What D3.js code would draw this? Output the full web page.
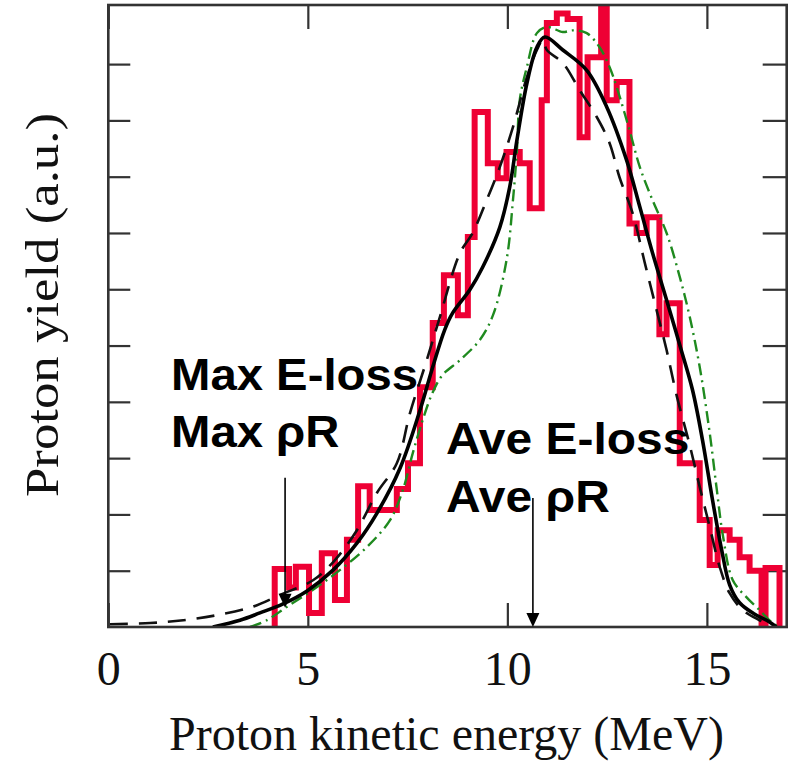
<!DOCTYPE html>
<html>
<head>
<meta charset="utf-8">
<script src="https://cdn.jsdelivr.net/npm/d3@7"></script>
<style>
  html, body { margin: 0; padding: 0; background: #fff; }
  svg { display: block; }
</style>
</head>
<body>
<svg id="chart" width="793" height="762"></svg>
<script>
// Measured proton spectrum: histogram bin edges (MeV) and yields (a.u.)
const histEdges = [4.17, 4.53, 4.70, 5.03, 5.35, 5.68, 5.98, 6.26, 6.55, 7.23, 7.51, 7.81,
  8.13, 8.41, 8.76, 9.01, 9.18, 9.51, 9.76, 9.98, 10.31, 10.56, 10.86, 10.99, 11.24, 11.51,
  11.81, 12.01, 12.35, 12.49, 12.74, 13.06, 13.24, 13.49, 13.81, 13.99, 14.32, 14.82, 15.07,
  15.27, 15.57, 15.82, 16.07, 16.37, 16.47, 16.82];
const histYield = [1.03, 0.70, 1.07, 0.25, 1.31, 0.48, 1.55, 2.50, 2.08, 2.45, 2.91,
  4.26, 5.40, 6.25, 5.54, 6.93, 9.15, 8.24, 7.97, 8.44, 8.24, 7.44, 9.36, 10.73, 10.90,
  10.80, 8.70, 10.12, 11.30, 9.36, 9.68, 7.17, 7.00, 7.28, 5.20, 5.75, 2.91, 1.90, 1.10,
  1.72, 1.55, 1.24, 1.00, 0.00, 1.05];

// Modelled spectra: energy (MeV) and yield (a.u.)
const solidE = [2.62, 3.30, 3.80, 4.38, 4.98, 5.63, 6.23, 6.73, 7.31, 7.81, 8.13, 8.43, 8.63,
  9.06, 9.38, 9.81, 10.06, 10.24, 10.49, 10.74, 10.94, 11.39, 11.99, 12.49, 12.99, 13.32,
  13.64, 13.99, 14.32, 14.64, 14.89, 15.14, 15.37, 15.57, 15.82, 16.19, 16.52, 16.74];
const solidY = [0.00, 0.12, 0.25, 0.41, 0.64, 1.01, 1.49, 2.02, 2.82, 3.85, 4.62, 5.28, 5.58,
  5.99, 6.39, 7.10, 7.82, 8.65, 9.66, 10.30, 10.48, 10.25, 9.89, 9.24, 8.29, 7.46,
  6.64, 5.81, 5.01, 4.21, 3.32, 2.26, 1.37, 0.75, 0.43, 0.23, 0.11, 0.00];

const dashedE = [0.04, 1.05, 1.88, 2.72, 3.62, 4.30, 5.13, 5.68, 6.23, 6.73, 7.23, 7.56, 7.98,
  8.31, 8.81, 9.13, 9.48, 9.81, 10.14, 10.49, 10.74, 10.89, 10.99, 11.39, 11.81, 12.24,
  12.56, 12.81, 13.14, 13.44, 13.74, 13.99, 14.24, 14.57, 14.82, 15.07, 15.32, 15.57,
  15.90, 16.32, 16.69];
const dashedY = [0.05, 0.07, 0.12, 0.21, 0.36, 0.57, 0.83, 1.19, 1.72, 2.38, 2.91, 3.80, 4.74,
  5.51, 6.64, 7.00, 7.58, 8.17, 8.88, 9.77, 10.25, 10.43, 10.25, 10.02, 9.54, 9.06,
  8.60, 7.99, 7.35, 6.48, 5.63, 4.92, 4.12, 3.23, 2.49, 1.78, 1.07, 0.60,
  0.30, 0.12, 0.00];

const dashDotE = [3.55, 3.97, 4.48, 5.13, 5.80, 6.48, 7.06, 7.38, 7.63, 7.88, 8.13, 8.38, 8.81,
  9.31, 9.64, 9.98, 10.14, 10.24, 10.31, 10.49, 10.74, 10.99, 11.39, 11.64, 11.99, 12.31,
  12.56, 12.74, 13.06, 13.32, 13.64, 13.99, 14.32, 14.57, 14.82, 15.07, 15.25, 15.40,
  15.65, 15.99, 16.32, 16.65, 16.82];
const dashDotY = [0.00, 0.12, 0.36, 0.66, 1.01, 1.42, 1.90, 2.43, 3.09, 3.68, 4.17, 4.48, 4.74,
  5.10, 5.54, 6.52, 7.58, 8.47, 9.36, 9.95, 10.55, 10.66, 10.57, 10.60, 10.55, 10.30,
  9.95, 9.59, 8.83, 8.17, 7.58, 7.00, 6.22, 5.51, 4.62, 3.45, 2.43, 1.63,
  0.83, 0.53, 0.30, 0.07, 0.00];

// Axis ticks
const xTicks = [0, 5, 10, 15];
const yTicks = [1, 2, 3, 4, 5, 6, 7, 8, 9, 10];

// Arrow markers: energy (MeV), top and tip yields
const arrowE = [4.43, 10.64];
const arrowTop = [2.65, 2.29];
const arrowTip = [0.34, 0.0];

const svg = d3.select("#chart");
const plot = { left: 108.3, right: 786.7, top: 5, bottom: 627 };

const x = d3.scaleLinear().domain([0, 17]).range([plot.left, plot.right]);
const y = d3.scaleLinear().domain([0, 11.05]).range([plot.bottom, plot.top]);

svg.append("defs").append("clipPath").attr("id", "plotClip")
  .append("rect")
  .attr("x", plot.left).attr("y", plot.top)
  .attr("width", plot.right - plot.left).attr("height", plot.bottom - plot.top);

const frameColor = "#333";

// Ticks (inward) on all four sides, no domain lines
function styleAxis(g) {
  g.select(".domain").remove();
  g.selectAll(".tick line").attr("stroke", frameColor).attr("stroke-width", 2.2);
}
svg.append("g").attr("transform", `translate(0,${plot.bottom})`)
  .call(d3.axisBottom(x).tickValues(xTicks).tickSize(-24).tickFormat(d3.format("d")))
  .call(styleAxis)
  .call(g => g.selectAll(".tick text")
    .attr("font-family", "'Liberation Serif', 'Times New Roman', serif")
    .attr("font-size", 48).attr("fill", "#111").attr("dy", 0).attr("y", 58));
svg.append("g").attr("transform", `translate(0,${plot.top})`)
  .call(d3.axisTop(x).tickValues(xTicks).tickSize(-24).tickFormat(""))
  .call(styleAxis);
svg.append("g").attr("transform", `translate(${plot.left},0)`)
  .call(d3.axisLeft(y).tickValues(yTicks).tickSize(-22).tickFormat(""))
  .call(styleAxis);
svg.append("g").attr("transform", `translate(${plot.right},0)`)
  .call(d3.axisRight(y).tickValues(yTicks).tickSize(-24).tickFormat(""))
  .call(styleAxis);

const layer = svg.append("g").attr("clip-path", "url(#plotClip)");

// Histogram outline
const histPts = [[histEdges[0], 0]].concat(
  histEdges.map((e, i) => [e, i < histYield.length ? histYield[i] : 0]));
layer.append("path")
  .datum(histPts)
  .attr("d", d3.line().x(d => x(d[0])).y(d => y(d[1])).curve(d3.curveStepAfter))
  .attr("fill", "none")
  .attr("stroke", "#ee0034")
  .attr("stroke-width", 6)
  .attr("stroke-linejoin", "miter");

const smooth = d3.line().x(d => x(d[0])).y(d => y(d[1])).curve(d3.curveCatmullRom.alpha(0.5));

layer.append("path")
  .datum(dashDotE.map((e, i) => [e, dashDotY[i]]))
  .attr("d", smooth)
  .attr("fill", "none")
  .attr("stroke", "#1f8a1f")
  .attr("stroke-width", 2.4)
  .attr("stroke-dasharray", "12,5,2,5");

layer.append("path")
  .datum(dashedE.map((e, i) => [e, dashedY[i]]))
  .attr("d", smooth)
  .attr("fill", "none")
  .attr("stroke", "#111")
  .attr("stroke-width", 2.6)
  .attr("stroke-dasharray", "18,11");

layer.append("path")
  .datum(solidE.map((e, i) => [e, solidY[i]]))
  .attr("d", smooth)
  .attr("fill", "none")
  .attr("stroke", "#000")
  .attr("stroke-width", 3.6);

// Frame
svg.append("rect")
  .attr("x", plot.left).attr("y", plot.top)
  .attr("width", plot.right - plot.left).attr("height", plot.bottom - plot.top)
  .attr("fill", "none").attr("stroke", frameColor).attr("stroke-width", 2.6);

// Arrows
arrowE.forEach((e, i) => {
  const ax = x(e), yTop = y(arrowTop[i]), yTip = y(arrowTip[i]);
  svg.append("line")
    .attr("x1", ax).attr("x2", ax).attr("y1", yTop).attr("y2", yTip - 10)
    .attr("stroke", "#000").attr("stroke-width", 1.6);
  svg.append("path")
    .attr("d", `M${ax - 6.5},${yTip - 14} L${ax + 6.5},${yTip - 14} L${ax},${yTip} Z`)
    .attr("fill", "#000");
});

// Annotation labels
const labelFont = "'Liberation Sans', Arial, Helvetica, sans-serif";
function annot(lines, left, base0, step, sx) {
  const g = svg.append("g").attr("transform", `translate(${left},${base0}) scale(${sx},1)`);
  lines.forEach((t, i) => {
    g.append("text").attr("x", 0).attr("y", i * step)
      .attr("font-family", labelFont).attr("font-weight", "bold")
      .attr("font-size", 44).attr("fill", "#000").text(t);
  });
}
annot(["Max E-loss", "Max ρR"], 171, 390, 56.7, 1.075);
annot(["Ave E-loss", "Ave ρR"], 446, 454, 58.3, 1.09);

// Axis titles
const serif = "'Liberation Serif', 'Times New Roman', serif";
svg.append("text")
  .attr("x", 446.5).attr("y", 750)
  .attr("text-anchor", "middle")
  .attr("font-family", serif).attr("font-size", 48).attr("fill", "#111")
  .attr("textLength", 555).attr("lengthAdjust", "spacingAndGlyphs")
  .text("Proton kinetic energy (MeV)");
svg.append("text")
  .attr("transform", "translate(58,305) rotate(-90)")
  .attr("text-anchor", "middle")
  .attr("font-family", serif).attr("font-size", 46).attr("fill", "#111")
  .attr("textLength", 384).attr("lengthAdjust", "spacingAndGlyphs")
  .text("Proton yield (a.u.)");
</script>
</body>
</html>
